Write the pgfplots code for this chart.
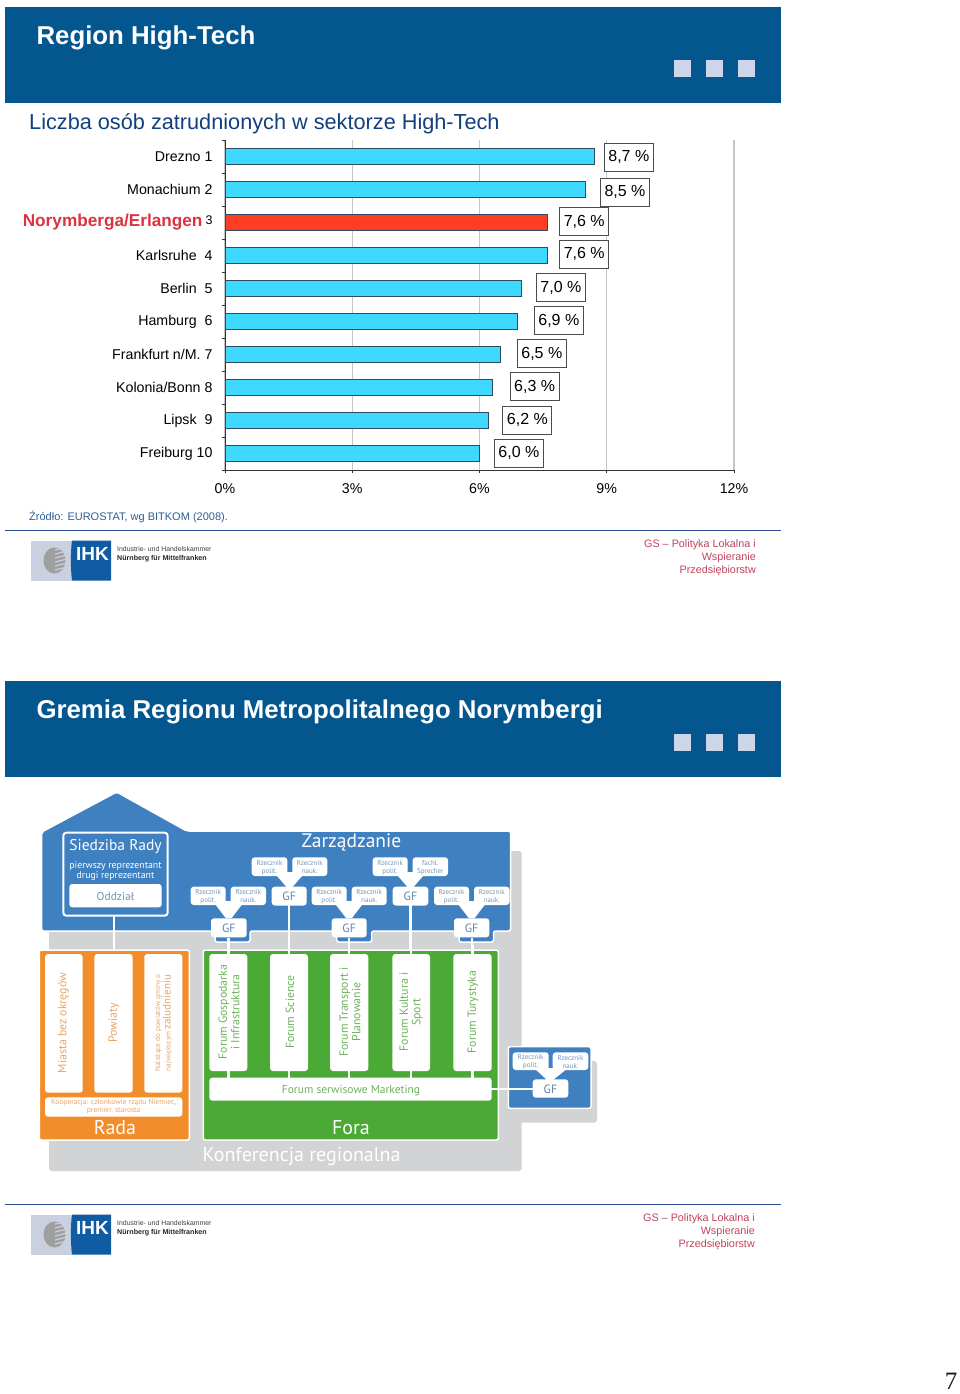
\documentclass[border=0pt]{standalone}
\usepackage{fontspec}
\setmainfont{Liberation Sans}
\newfontfamily\dia{PT Sans}
\newfontfamily\serifnum{Liberation Serif}
\usepackage{pgfplots}
\usepackage{pgfplotstable}
\pgfplotsset{compat=1.18}

\definecolor{slideblue}{HTML}{04568F}
\definecolor{squarecol}{HTML}{CDD6E8}
\definecolor{titleblue}{HTML}{12407F}
\definecolor{rulecol}{HTML}{2B4A93}
\definecolor{srcblue}{HTML}{2C5F96}
\definecolor{footred}{HTML}{C2435C}
\definecolor{barcyan}{HTML}{3FD8FF}
\definecolor{barred}{HTML}{FF3D22}
\definecolor{baredge}{HTML}{2F4B5C}
\definecolor{labred}{HTML}{DB3340}
\definecolor{gridcol}{HTML}{C6C6C6}
\definecolor{ihkgrey}{HTML}{C9D0E0}
\definecolor{ihkblue}{HTML}{0F5CA3}
\definecolor{diablue}{HTML}{3E80C0}
\definecolor{diatext}{HTML}{6F95BD}
\definecolor{diagrey}{HTML}{D2D3D4}
\definecolor{diaorange}{HTML}{F28D2B}
\definecolor{diagreen}{HTML}{4BA935}
\definecolor{orangetext}{HTML}{E9A566}
\definecolor{greentext}{HTML}{6DB25C}

% blue slide header
\newcommand\header[2]{%
  \fill[slideblue] (5,#1) rectangle (781,#1+96);
  \node[anchor=west,white,font=\fontsize{25.8}{28}\selectfont\bfseries] at (33,#1+31) {#2};
  \foreach \sx in {674,706,738}
    \fill[squarecol] (\sx,#1+53) rectangle (\sx+16.5,#1+70);
}
% rule, IHK logo and the red text at the foot of a slide
\newcommand\footer[2]{%
  \draw[rulecol,line width=1pt] (5,#1) -- (781,#1);
  \fill[ihkgrey] (31,#1+10.5) rectangle (73,#1+50.5);
  \fill[ihkblue] (72,#1+10.5) .. controls (70.5,#1+22) and (70.5,#1+38) .. (72,#1+50.5) -- (111,#1+50.5) -- (111,#1+10.5) -- cycle;
  \node[white,font=\fontsize{19}{22}\selectfont\bfseries] at (92.5,#1+24) {IHK};
  \fill[gray!75] (54.5,#1+30.5) ellipse (11 and 13);
  \foreach \ey in {20,24,28,32,36,40}
    \draw[ihkgrey,line width=1.2pt] (55,#1+\ey) -- (67,#1+\ey-3);
  \node[anchor=west,inner sep=0,font=\fontsize{6.9}{8}\selectfont,text=black!75] at (117,#1+18.7) {Industrie- und Handelskammer};
  \node[anchor=west,inner sep=0,font=\fontsize{7.1}{8}\selectfont\bfseries,text=black!85] at (117,#1+29) {N\"urnberg f\"ur Mittelfranken};
  \node[anchor=north east,inner sep=0,align=right,text=footred,font=\fontsize{10.8}{13}\selectfont] at (#2,#1+9.5) {GS -- Polityka Lokalna i\\Wspieranie\\Przedsi\k{e}biorstw};
}
\newcommand\rbox[4]{\fill[white,rounded corners=3pt] (#1,#3) rectangle (#2,#4);}
% small speaker box
\newcommand\rz[6]{%
  \rbox{#1}{#2}{#3}{#4}
  \node[align=center,inner sep=0,text=diatext,font=\dia\fontsize{7}{8}\selectfont] at ({(#1+#2)/2},{(#3+#4)/2+0.7}) {#5\\#6};
}
% GF box
\newcommand\gf[4]{%
  \rbox{#1}{#2}{#3}{#4}
  \node[inner sep=0,text=diatext!90!black,font=\dia\fontsize{12}{14}\selectfont] at ({(#1+#2)/2},{(#3+#4)/2+0.5}) {GF};
}
% rotated text in a white bar
\newcommand\vtext[4]{%
  \node[rotate=90,align=center,inner sep=0,text=#3,font=\dia\fontsize{11.8}{12.5}\selectfont] at (#1,#2) {#4};
}

\pgfplotstableread{
pos val
1 8.7
2 8.5
4 7.6
5 7.0
6 6.9
7 6.5
8 6.3
9 6.2
10 6.0
}\barsblue
\pgfplotstableread{
pos val
3 7.6
}\barsred
\pgfplotstableread{
lx pos lab
9.52 1.02 8,7
9.43 2.08 8,5
8.47 2.98 7,6
8.47 3.96 7,6
7.92 4.97 7,0
7.87 5.98 6,9
7.47 6.97 6,5
7.30 7.97 6,3
7.13 8.99 6,2
6.93 9.99 6,0
}\barlabels

\begin{document}
\begin{tikzpicture}[x=1pt,y=-1pt]
\path[fill=white] (0,0) rectangle (960,1394);

% ---- first slide
\header{7}{Region High-Tech}
\node[anchor=west,inner sep=0,text=titleblue,font=\fontsize{21.7}{24}\selectfont] at (29,123.5) {Liczba os\'ob zatrudnionych w sektorze High-Tech};

\begin{scope}[x=1cm,y=1cm]
\begin{axis}[
    at={(225pt,-470pt)}, anchor=south west,
    scale only axis,
    width=509pt, height=330pt,
    xmin=0, xmax=12,
    ymin=0.5, ymax=10.5,
    y dir=reverse,
    axis lines*=left,
    axis line style={line width=1pt,color=black!80},
    xtick={0,3,6,9,12},
    xticklabels={0\%,3\%,6\%,9\%,12\%},
    xmajorgrids,
    major grid style={gridcol,line width=1.2pt},
    ytick={1,2,...,10},
    yticklabels={Drezno 1,Monachium 2,{\raisebox{-2.5pt}{\textcolor{labred}{\fontsize{17.2}{16}\selectfont\bfseries Norymberga/Erlangen}}\hspace{3pt}{\fontsize{12.5}{12}\selectfont 3}},Karlsruhe\ \ 4,Berlin\ \ 5,Hamburg\ \ 6,Frankfurt n/M. 7,Kolonia/Bonn 8,Lipsk\ \ 9,Freiburg 10},
    minor ytick={0.5,1.5,...,10.5},
    tick align=outside,
    tick style={color=black!80,line width=0.8pt},
    major tick length=3pt,
    minor tick length=3pt,
    ytick style={draw=none},
    minor y tick style={draw=black!80,line width=0.8pt},
    ticklabel style={font=\fontsize{14.2}{16}\selectfont},
    xticklabel style={yshift=-7pt},
    yticklabel style={xshift=-6pt},
    xbar,
    bar width=16.5pt,
    bar shift=0pt,
    clip=false,
]
\addplot[draw=baredge,line width=0.9pt,fill=barcyan] table[x=val,y=pos] {\barsblue};
\addplot[draw=baredge,line width=0.9pt,fill=barred] table[x=val,y=pos] {\barsred};
\addplot[
    draw=none, mark=none, xbar=0pt, fill=none,
    point meta=explicit symbolic,
    nodes near coords={\pgfplotspointmeta{} \%},
    every node near coord/.style={anchor=center,draw=black!70,fill=white,line width=0.9pt,
      minimum width=49pt,minimum height=28pt,inner sep=0pt,text=black,font=\fontsize{16}{18}\selectfont},
] table[x=lx,y=pos,meta=lab] {\barlabels};
\end{axis}
\end{scope}

\node[anchor=west,inner sep=0,text=srcblue,font=\fontsize{11}{13}\selectfont] at (29,516.5) {\'Zr\'od\l{}o: EUROSTAT, wg BITKOM (2008).};
\footer{530}{756}

% ---- second slide
\header{681}{Gremia Regionu Metropolitalnego Norymbergi}

% grey panels
\fill[diagrey,rounded corners=3pt] (49,851) rectangle (521.7,1171);
\fill[diagrey,rounded corners=3pt] (500,1061) rectangle (597,1122.7);

% blue house with its tabs
\fill[diablue,draw=white,line width=1.5pt,rounded corners=2pt]
  (41.7,832) -- (116.7,792) -- (186.7,831) -- (510.5,831) -- (510.5,931) -- (493.5,931) -- (493.5,942) -- (459,942) -- (459,931)
  -- (371.7,931) -- (371.7,942) -- (336.7,942) -- (336.7,931) -- (250,931) -- (250,942) -- (215,942) -- (215,931) -- (41.7,931) -- cycle;
\node[white,inner sep=0,font=\dia\fontsize{19.5}{22}\selectfont] at (351.5,842.5) {Zarz\k{a}dzanie};
\draw[white,line width=2pt,rounded corners=3pt] (63.3,832.7) rectangle (167.7,915.7);
\node[white,inner sep=0,font=\dia\fontsize{15.5}{18}\selectfont] at (115.5,846.5) {Siedziba Rady};
\node[white,inner sep=0,align=center,font=\dia\fontsize{9.8}{9.6}\selectfont] at (115.5,871) {pierwszy reprezentant\\drugi reprezentant};
\rbox{69.3}{161.7}{884}{907.3}
\node[inner sep=0,text=diatext,font=\dia\fontsize{11.5}{14}\selectfont] at (115.5,896) {Oddzia\l{}};

% white connectors
\draw[white,line width=2.5pt] (114,916) -- (114,950);
\foreach \cx/\cy in {228.7/938,289/905,349/938,410.5/905,472/938}
  \draw[white,line width=2.5pt] (\cx,\cy) -- (\cx,955);
\foreach \fx/\ftop/\fgf in {228.7/901/918,349/901/918,471.7/901/918,289.5/872/887,410.5/872/887}
  \fill[white] (\fx-16,\ftop) -- (\fx+16,\ftop) -- (\fx+3,\fgf) -- (\fx-3,\fgf) -- cycle;

% speakers and GF boxes
\rz{251.7}{287.3}{857.3}{876}{Rzecznik}{polit.}
\rz{292.3}{327.3}{857.3}{876}{Rzecznik}{nauk.}
\rz{372.7}{407.7}{857.3}{876}{Rzecznik}{polit.}
\rz{412.7}{448}{857.3}{876}{fachl.}{Sprecher}
\rz{190.7}{225.7}{886.7}{905}{Rzecznik}{polit.}
\rz{230.7}{266}{886.7}{905}{Rzecznik}{nauk.}
\rz{311.7}{346.7}{886.7}{905}{Rzecznik}{polit.}
\rz{351.7}{386.7}{886.7}{905}{Rzecznik}{nauk.}
\rz{434}{469}{886.7}{905}{Rzecznik}{polit.}
\rz{474}{509.5}{886.7}{905}{Rzecznik}{nauk.}
\gf{271.7}{306.7}{886.7}{905.5}
\gf{392.7}{428.3}{886.7}{905.5}
\gf{211}{246.7}{918.3}{937.3}
\gf{331.7}{366.7}{918.3}{937.3}
\gf{454}{489.3}{918.3}{937.3}

% Rada
\fill[diaorange,draw=white,line width=1.5pt,rounded corners=2pt] (39.3,950) rectangle (189.3,1140);
\rbox{45}{82.7}{954}{1092.7}
\rbox{94.3}{132.7}{954}{1092.7}
\rbox{144.3}{182.3}{954}{1092.7}
\rbox{45}{182.3}{1097.3}{1116.7}
\vtext{63.5}{1023}{orangetext}{Miasta bez okr\k{e}g\'ow}
\vtext{114}{1023}{orangetext}{Powiaty}
\node[rotate=90,align=center,inner sep=0,text=orangetext,font=\dia\fontsize{7.3}{9}\selectfont] at (163.5,1023) {Nale\.z\k{a}ce do powiat\'ow gminy o\\najwi\k{e}kszym {\fontsize{11}{9}\selectfont zaludnieniu}};
\node[align=center,inner sep=0,text=orangetext,font=\dia\fontsize{7.5}{8.5}\selectfont] at (113.7,1106.5) {Kooperacja: cz\l{}onkowie rz\k{a}du Niemiec,\\premier, starosta};
\node[white,inner sep=0,font=\dia\fontsize{20}{22}\selectfont] at (115,1128) {Rada};

% Fora
\fill[diagreen,draw=white,line width=1.5pt,rounded corners=2pt] (203.3,950) rectangle (498.3,1140);
\foreach \fa/\fb in {209.3/247.3,270/308,330/368.3,392.3/430,453.3/491.7}{
  \rbox{\fa}{\fb}{954}{1071}
  \draw[white,line width=2.5pt] ({(\fa+\fb)/2},1071) -- ({(\fa+\fb)/2},1078);
  \draw[white,line width=2.5pt] ({(\fa+\fb)/2},945) -- ({(\fa+\fb)/2},955);
}
\rbox{209.3}{491.7}{1077.7}{1100.7}
\vtext{229}{1012}{greentext}{Forum Gospodarka\\i Infrastruktura}
\vtext{290}{1012}{greentext}{Forum Science}
\vtext{350}{1012}{greentext}{Forum Transport i\\Planowanie}
\vtext{411}{1012}{greentext}{Forum Kultura i\\Sport}
\vtext{473}{1012}{greentext}{Forum Turystyka}
\node[inner sep=0,text=greentext,font=\dia\fontsize{11.5}{14}\selectfont] at (351,1091) {Forum serwisowe Marketing};
\node[white,inner sep=0,font=\dia\fontsize{20}{22}\selectfont] at (351,1128) {Fora};
\node[anchor=west,white,inner sep=0,font=\dia\fontsize{20}{24}\selectfont] at (202.5,1157) {Konferencja regionalna};

% small unit on the right
\fill[diablue,draw=white,line width=1.5pt,rounded corners=2pt] (508.3,1046.7) rectangle (591,1108.3);
\fill[white] (534,1068) -- (568,1068) -- (553,1080) -- (547,1080) -- cycle;
\draw[white,line width=2.5pt] (491,1089) -- (533,1089);
\rz{512.7}{548.7}{1052.3}{1070}{Rzecznik}{polit.}
\rz{552.7}{588.3}{1052.3}{1070}{Rzecznik}{nauk.}
\gf{532.7}{568.3}{1079.3}{1097.7}

\footer{1204}{755}
\node[inner sep=0,text=black!90,font=\serifnum\fontsize{25}{30}\selectfont] at (951,1381) {7};
\path[use as bounding box] (0,0) rectangle (960,1394);
\end{tikzpicture}
\end{document}
